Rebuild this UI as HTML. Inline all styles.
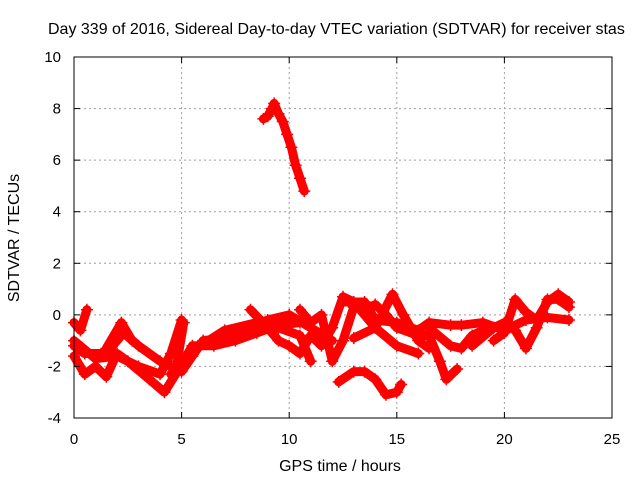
<!DOCTYPE html>
<html><head><meta charset="utf-8"><style>
body{margin:0;background:#fff}
svg{display:block;font-family:"Liberation Sans",sans-serif}
</style></head><body>
<svg id="chart" width="640" height="480" viewBox="0 0 640 480">
<rect width="640" height="480" fill="#fff"/>
<g id="grid"></g>
<g id="marks"></g>
<rect x="74" y="57" width="538" height="361" fill="none" stroke="#000" stroke-width="1"/>
<g id="ticks"></g>
<text x="48" y="34" font-size="16">Day 339 of 2016, Sidereal Day-to-day VTEC variation (SDTVAR) for receiver stas</text>
<text x="340" y="471" font-size="16" text-anchor="middle">GPS time / hours</text>
<text transform="translate(19,238) rotate(-90)" font-size="16" text-anchor="middle">SDTVAR / TECUs</text>
</svg>
<script>
const xTicks=[0,5,10,15,20,25];
const yTicks=[-4,-2,0,2,4,6,8,10];
const track1=[[8.8,7.6],[9.0,7.7],[9.2,8.0],[9.3,8.2],[9.5,7.8],[9.7,7.5],[9.9,7.0],[10.1,6.5],[10.3,5.8],[10.5,5.3],[10.7,4.8]];
const track2=[[0,-1.2],[0.5,-1.5],[1.5,-1.5],[2.3,-0.7],[3,-1.2],[4,-1.8],[5,-2.2],[5.5,-1.6],[6,-1.0],[7,-0.9],[8,-0.5],[9,-0.2],[10,0],[11,-0.5],[12,-1.0]];
const track3=[[0,-1.6],[0.5,-2.3],[1,-2.0],[1.5,-2.4],[2,-1.5],[2.5,-1.8],[3.5,-2.5],[4.2,-3.0],[4.8,-2.2],[5.5,-1.2],[6.5,-1.2],[7.5,-1.0],[8.5,-0.7],[9.5,-0.4],[10.5,-0.3]];
const track4=[[0,-1.0],[1,-1.7],[2,-1.6],[3,-2.0],[4,-2.3],[4.5,-1.5],[5,-0.2]];
const track5=[[4.5,-2.3],[5.5,-1.4],[7,-0.6],[8.5,-0.3],[9.5,-0.5],[10.5,-0.8],[11,-1.8]];
const track6=[[8.2,0.2],[9,-0.5],[9.5,-1.0],[10,-1.2],[10.5,-1.5],[11,-0.8],[11.5,-1.2],[12,-0.5],[12.5,0.7],[13,0.5],[14,-0.5],[15,-1.2],[16,-1.5]];
const track7=[[10.5,0.2],[11,-0.3],[11.5,0],[12,-1.8],[12.5,-1.0],[13,0.3],[13.5,0.2],[14,0.4],[14.5,0],[15,-0.5],[16,-0.8],[16.5,-0.8],[17,-1.8],[17.3,-2.5],[17.8,-2.1]];
const track8=[[12.5,0.5],[13.5,0.5],[14,-0.2],[15,-0.3],[16,-0.6],[16.5,-0.3],[17.5,-0.4],[18,-0.4],[19,-0.3],[20,-0.6],[21,-0.2],[22,-0.1],[23,-0.2]];
const track9=[[13,-0.9],[14,-0.5],[14.8,0.8],[15.3,0],[16,-1.0],[16.5,-1.3]];
const track10=[[12.3,-2.6],[13,-2.2],[13.5,-2.2],[14,-2.5],[14.5,-3.1],[15,-3.0],[15.2,-2.7]];
const track11=[[16.5,-0.5],[17.5,-1.2],[18,-1.3],[18.5,-0.8],[19,-0.6]];
const track12=[[18.5,-1.2],[19.5,-0.5],[20,-0.3],[20.5,-0.6],[21,-1.3],[21.5,-0.5],[22,0.6],[22.5,0.6],[23,0.3]];
const track13=[[19.5,-1.0],[20,-0.7],[20.5,0.6],[21,0.1],[21.5,-0.2],[22,0.5],[22.5,0.8],[23,0.5]];
const track14=[[0,-0.3],[0.3,-0.6],[0.6,0.2]];
const track15=[[1.5,-1.3],[2.2,-0.3],[2.7,-1.0]];
const track16=[[4.8,-1.8],[5.1,-0.3]];
const tracks=[track1,track2,track3,track4,track5,track6,track7,track8,track9,track10,track11,track12,track13,track14,track15,track16];
const NS="http://www.w3.org/2000/svg";
const X0=74,X1=612,Y0=418,Y1=57;
const xs=t=>X0+(t-0)/25*(X1-X0);
const ys=v=>Y0-(v+4)/14*(Y0-Y1);
const grid=document.getElementById('grid'),ticks=document.getElementById('ticks'),marks=document.getElementById('marks');
function mk(tag,attrs,parent){const e=document.createElementNS(NS,tag);for(const k in attrs)e.setAttribute(k,attrs[k]);parent.appendChild(e);return e;}
xTicks.forEach(t=>{const x=xs(t);
 if(t>0&&t<25){const g=mk('line',{x1:x,x2:x,y1:Y1,y2:Y0,stroke:'#a0a0a0','stroke-dasharray':'2,3'},grid);
 
 }
 const a=mk('line',{x1:x,x2:x,y1:Y0,y2:Y0-6,stroke:'#000'},ticks);
 
 
 const b=mk('line',{x1:x,x2:x,y1:Y1,y2:Y1+6,stroke:'#000'},ticks);
 
 
 const l=mk('text',{x:x,y:444,'font-size':15,'text-anchor':'middle'},ticks);l.textContent=t;
 
 });
yTicks.forEach(v=>{const y=ys(v);
 if(v>-4&&v<10){const g=mk('line',{x1:X0,x2:X1,y1:y,y2:y,stroke:'#a0a0a0','stroke-dasharray':'2,3'},grid);
 
 }
 const a=mk('line',{x1:X0,x2:X0+6,y1:y,y2:y,stroke:'#000'},ticks);
 
 
 const b=mk('line',{x1:X1,x2:X1-6,y1:y,y2:y,stroke:'#000'},ticks);
 
 
 const l=mk('text',{x:61,y:y+5,'font-size':15,'text-anchor':'end'},ticks);l.textContent=v;
 
 });
tracks.forEach(tr=>{
 const p=mk('polyline',{points:tr.map(d=>xs(d[0])+','+ys(d[1])).join(' '),fill:'none',stroke:'#ff0000','stroke-width':9,'stroke-linejoin':'round','stroke-linecap':'round'},marks);
 
 
 tr.forEach(d=>{const x=xs(d[0]),y=ys(d[1]);
  const m=mk('path',{d:`M${x-6},${y}H${x+6}M${x},${y-6}V${y+6}`,stroke:'#ff0000','stroke-width':1.5},marks);
  
  });
});
</script>
</body></html>
